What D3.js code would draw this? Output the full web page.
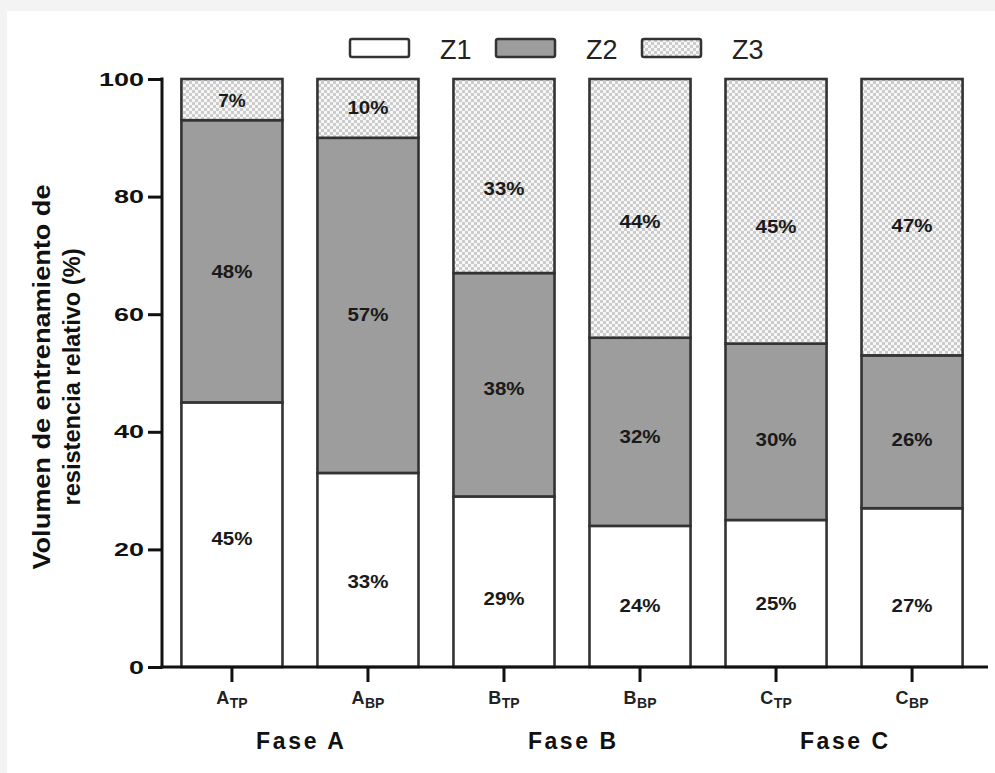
<!DOCTYPE html>
<html><head><meta charset="utf-8">
<script src="https://cdn.jsdelivr.net/npm/d3@7"></script>
<style>html,body{margin:0;padding:0;background:#f3f3f3;}</style>
</head><body>
<svg id="c" width="995" height="773"></svg>
<script>
const categories = ["A|TP","A|BP","B|TP","B|BP","C|TP","C|BP"];
const phases = ["Fase A","Fase B","Fase C"];
const seriesNames = ["Z1","Z2","Z3"];
const z1 = [45,33,29,24,25,27];
const z2 = [48,57,38,32,30,26];
const z3 = [7,10,33,44,45,47];
// label anchor positions (in % units)
const z1LabelAt = [21.9,14.5,11.7,10.4,10.7,10.5];
const z2LabelAt = [67.2,60.0,47.4,39.1,38.6,38.6];
const z3LabelAt = [96.3,95.2,81.4,75.7,74.8,75.0];
const yTicks = [0,20,40,60,80,100];
const yTitle = ["Volumen de entrenamiento de","resistencia relativo (%)"];

const svg = d3.select("#c");
const defs = svg.append("defs");
const pat = defs.append("pattern").attr("id","chk").attr("patternUnits","userSpaceOnUse")
  .attr("width",6).attr("height",6);
pat.append("rect").attr("width",6).attr("height",6).attr("fill","#f7f7f7");
pat.append("rect").attr("x",0).attr("y",0).attr("width",3).attr("height",3).attr("fill","#cccccc");
pat.append("rect").attr("x",3).attr("y",3).attr("width",3).attr("height",3).attr("fill","#cccccc");

svg.append("rect").attr("x",7).attr("y",11).attr("width",988).attr("height",762).attr("fill","#fff");

const x = d3.scaleBand().domain(categories).range([164,980]).paddingInner(0.257).paddingOuter(0.128);
const y = d3.scaleLinear().domain([0,100]).range([667,79]);

const fills = ["#ffffff","#9d9d9d","url(#chk)"];
const vals = [z1,z2,z3];
const labs = [z1LabelAt,z2LabelAt,z3LabelAt];

const table = categories.map((c,i)=>({cat:c,Z1:z1[i],Z2:z2[i],Z3:z3[i]}));
const stacked = d3.stack().keys(seriesNames)(table);

stacked.forEach((s,si)=>{
  svg.append("g").selectAll("rect").data(s).join("rect")
    .attr("x",d=>x(d.data.cat)).attr("width",x.bandwidth())
    .attr("y",d=>y(d[1])).attr("height",d=>y(d[0])-y(d[1]))
    .attr("fill",fills[si]).attr("stroke","#333").attr("stroke-width",2.6);
});
stacked.forEach((s,si)=>{
  svg.append("g").selectAll("text").data(s).join("text")
    .attr("x",d=>x(d.data.cat)+x.bandwidth()/2)
    .attr("y",(d,i)=>y(labs[si][i]))
    .attr("dy","0.35em").attr("text-anchor","middle")
    .attr("font-family","Liberation Sans, Arial, sans-serif").attr("font-weight","bold")
    .attr("font-size",18).attr("fill","#1a1a1a")
    .attr("textLength",(d,i)=>String(vals[si][i]).length*13.5+14).attr("lengthAdjust","spacingAndGlyphs")
    .text((d,i)=>vals[si][i]+"%");
});

// Y axis
const yAxis = d3.axisLeft(y).tickValues(yTicks).tickSize(14).tickPadding(4);
const gy = svg.append("g").attr("transform","translate(162,0)").call(yAxis);
gy.select(".domain").remove();
gy.selectAll(".tick line").attr("stroke","#111").attr("stroke-width",3);
gy.selectAll(".tick text").attr("font-family","Liberation Sans, Arial, sans-serif")
  .attr("font-weight","bold").attr("font-size",19).attr("fill","#111")
  .attr("textLength",d=>String(d).length*15).attr("lengthAdjust","spacingAndGlyphs");
svg.append("line").attr("x1",162).attr("x2",162).attr("y1",y(100)-1.5).attr("y2",y(0)+1.5)
  .attr("stroke","#111").attr("stroke-width",3);

// X axis
const xAxis = d3.axisBottom(x).tickSize(15).tickFormat("");
const gx = svg.append("g").attr("transform","translate(0,667)").call(xAxis);
gx.select(".domain").remove();
gx.selectAll(".tick line").attr("stroke","#111").attr("stroke-width",3);
svg.append("line").attr("x1",160.5).attr("x2",988).attr("y1",667).attr("y2",667)
  .attr("stroke","#111").attr("stroke-width",3);
gx.selectAll(".tick").append("text").attr("y",37).attr("text-anchor","middle")
  .attr("font-family","Liberation Sans, Arial, sans-serif").attr("font-weight","bold").attr("fill","#222")
  .each(function(d){
    const p = d.split("|");
    const t = d3.select(this);
    t.append("tspan").attr("font-size",18).attr("letter-spacing","0.5").text(p[0]);
    t.append("tspan").attr("font-size",14).attr("dy",4).text(p[1]);
  });

// phase labels
svg.append("g").selectAll("text").data(phases).join("text")
  .attr("x",(d,i)=>(x(categories[2*i])+x(categories[2*i+1])+x.bandwidth())/2)
  .attr("y",749).attr("text-anchor","middle")
  .attr("font-family","Liberation Sans, Arial, sans-serif").attr("font-weight","bold")
  .attr("font-size",23).attr("fill","#111")
  .attr("textLength",88).attr("lengthAdjust","spacing").text(d=>d);

// y title
const yt = svg.append("text").attr("transform","translate(0,377) rotate(-90)")
  .attr("text-anchor","middle").attr("font-family","Liberation Sans Narrow, Arial Narrow, Liberation Sans, sans-serif")
  .attr("font-weight","bold").attr("font-size",23).attr("fill","#111");
const tl = [385,257];
yTitle.forEach((t,i)=>yt.append("tspan").attr("x",0).attr("y",50+i*30)
  .attr("textLength",tl[i]).attr("lengthAdjust","spacingAndGlyphs").text(t));

// legend
const lg = svg.append("g").selectAll("g").data(seriesNames).join("g")
  .attr("transform",(d,i)=>`translate(${350+i*146},39)`);
lg.append("rect").attr("width",59).attr("height",18).attr("rx",2)
  .attr("fill",(d,i)=>fills[i]).attr("stroke","#333").attr("stroke-width",2.5);
lg.append("text").attr("x",90).attr("y",20).attr("font-family","Liberation Sans, Arial, sans-serif")
  .attr("font-size",27).attr("fill","#222").text(d=>d);
</script>
</body></html>
